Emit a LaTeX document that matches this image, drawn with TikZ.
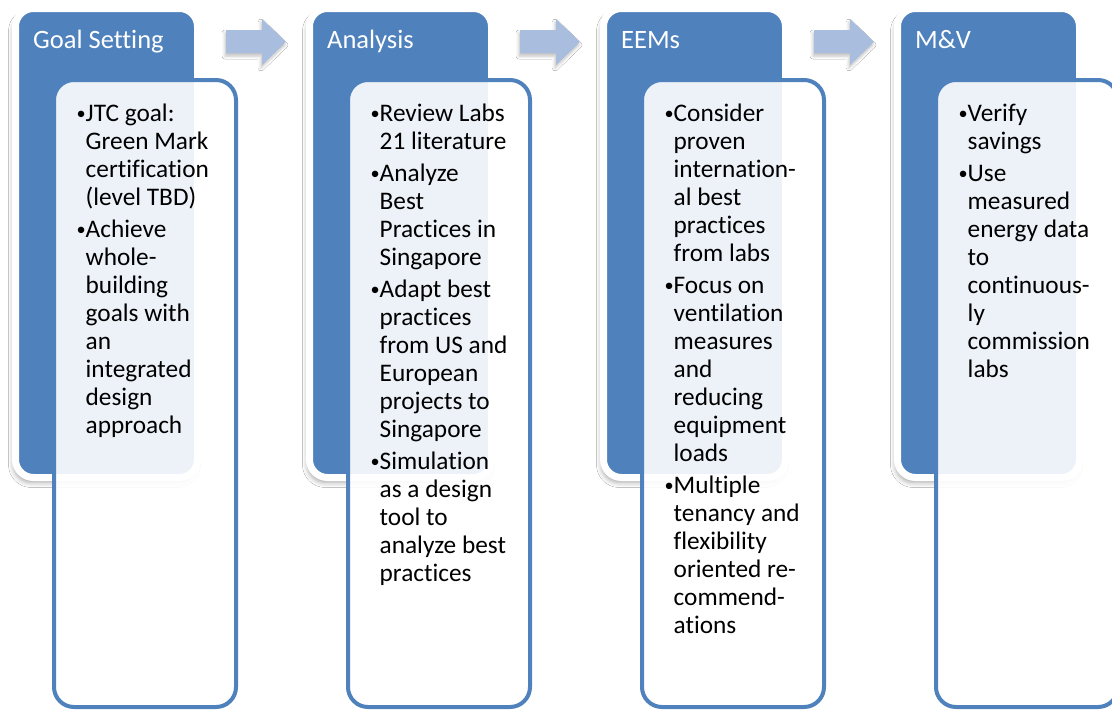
\documentclass[tikz,border=0pt]{standalone}
\usepackage{fontspec}
\setmainfont{Carlito}[Ligatures=NoCommon]
\usetikzlibrary{shadows.blur}
\definecolor{accentblue}{HTML}{4F81BD}
\definecolor{arrowblue}{HTML}{A9BDDF}
% bullet with hanging indent
\newcommand\blt{\makebox[9.5pt][l]{\hspace{0.5pt}\raisebox{1.6pt}{\scalebox{0.72}{\textbullet}}}}
\newcommand\ind{\hspace*{9.5pt}}
\begin{document}
\begin{tikzpicture}[x=1pt,y=-1pt,
  header/.style={draw=white, line width=7pt, fill=accentblue, rounded corners=18pt,
    minimum width=182pt, minimum height=469pt, inner sep=0pt,
    blur shadow={shadow xshift=-2pt, shadow yshift=-5pt, shadow blur radius=5pt, shadow opacity=35}},
  textbox/.style={draw=accentblue, line width=4pt, fill=white, fill opacity=0.9,
    rounded corners=20pt, minimum width=182pt, minimum height=627pt, inner sep=0pt},
  headlabel/.style={text=white, font=\fontsize{26.5}{30}\selectfont, anchor=base west, inner sep=0pt},
  bodytext/.style={font=\fontsize{25.3}{28}\selectfont, align=left, anchor=north west, inner sep=0pt},
  flowarrow/.style={fill=arrowblue,
    blur shadow={shadow xshift=-1pt, shadow yshift=-3pt, shadow blur radius=3pt, shadow opacity=25}}]
\useasboundingbox (0,0) rectangle (1112,710);
\fill[white] (0,0) rectangle (1112,710);

% step arrows between the stages
\foreach \i in {0,1,2}{
  \fill[flowarrow, xshift=\i*294pt] (226,30) -- (262,30) -- (262,19) -- (286,42)
    -- (262,65) -- (262,53) -- (226,53) -- cycle;
}

% stage 1
\node[header] (h1) at (106.5,243) {};
\node[textbox] (t1) at (145,393.5) {};
\node[headlabel] (l1) at (33,48) {Goal Setting};
\node[bodytext] (b1) at (76,101) {\rule{0pt}{20pt}\blt JTC goal:\\ \ind Green Mark\\ \ind certification\\ \ind (level TBD)\\[4pt]
  \blt Achieve\\ \ind whole-\\ \ind building\\ \ind goals with\\ \ind an\\ \ind integrated\\ \ind design\\ \ind approach};

% stage 2
\node[header] (h2) at (400.5,243) {};
\node[textbox] (t2) at (439,393.5) {};
\node[headlabel] (l2) at (327,48) {Analysis};
\node[bodytext] (b2) at (370,101) {\rule{0pt}{20pt}\blt Review Labs\\ \ind 21 literature\\[4pt]
  \blt Analyze\\ \ind Best\\ \ind Practices in\\ \ind Singapore\\[4pt]
  \blt Adapt best\\ \ind practices\\ \ind from US and\\ \ind European\\ \ind projects to\\ \ind Singapore\\[4pt]
  \blt Simulation\\ \ind as a design\\ \ind tool to\\ \ind analyze best\\ \ind practices};

% stage 3
\node[header] (h3) at (694.5,243) {};
\node[textbox] (t3) at (733,393.5) {};
\node[headlabel] (l3) at (621,48) {EEMs};
\node[bodytext] (b3) at (664,101) {\rule{0pt}{20pt}\blt Consider\\ \ind proven\\ \ind internation-\\ \ind al best\\ \ind practices\\ \ind from labs\\[4pt]
  \blt Focus on\\ \ind ventilation\\ \ind measures\\ \ind and\\ \ind reducing\\ \ind equipment\\ \ind loads\\[4pt]
  \blt Multiple\\ \ind tenancy and\\ \ind flexibility\\ \ind oriented re-\\ \ind commend-\\ \ind ations};

% stage 4
\node[header] (h4) at (988.5,243) {};
\node[textbox] (t4) at (1027,393.5) {};
\node[headlabel] (l4) at (915,48) {M\&V};
\node[bodytext] (b4) at (958,101) {\rule{0pt}{20pt}\blt Verify\\ \ind savings\\[4pt]
  \blt Use\\ \ind measured\\ \ind energy data\\ \ind to\\ \ind continuous-\\ \ind ly\\ \ind commission\\ \ind labs};
\end{tikzpicture}
\end{document}
